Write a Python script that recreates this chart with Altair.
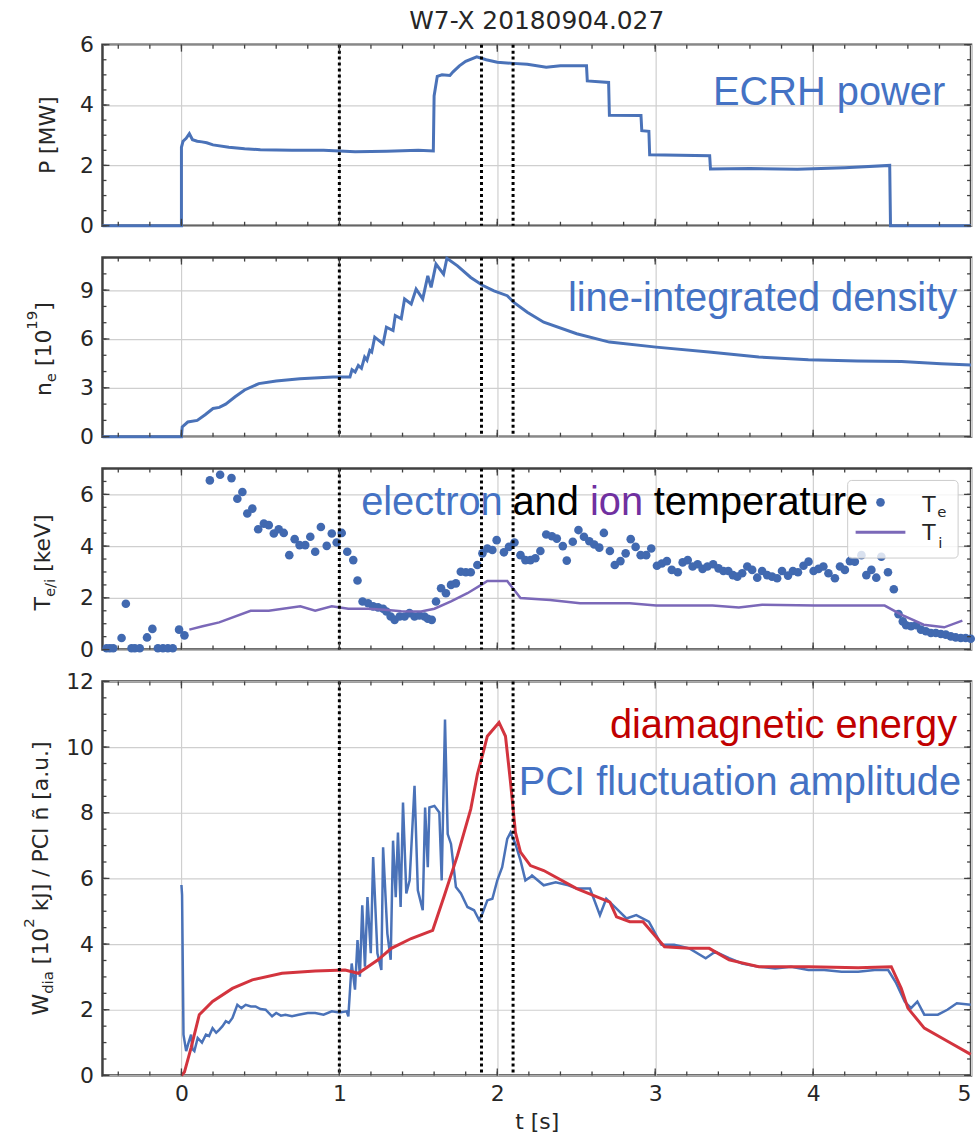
import altair as alt
import numpy as np
import pandas as pd

# ---------------- data ----------------
SHOT = "W7-X 20180904.027"

# ECRH power [MW]
P_t = [-0.5, 0.0, 0.0, 0.01, 0.03, 0.05, 0.07, 0.10, 0.13, 0.16, 0.20, 0.30, 0.40, 0.50, 0.70, 0.90,
       1.10, 1.30, 1.50, 1.595, 1.60, 1.62, 1.65, 1.70, 1.72, 1.76, 1.80, 1.87, 1.93, 2.00, 2.10, 2.19,
       2.31, 2.40, 2.50, 2.565, 2.57, 2.705, 2.71, 2.91, 2.915, 2.96, 2.965, 3.345, 3.35, 3.60, 3.90,
       4.20, 4.485, 4.49, 5.0]
P_v = [0, 0, 2.6, 2.8, 2.9, 3.05, 2.85, 2.8, 2.78, 2.75, 2.68, 2.6, 2.55, 2.52, 2.5, 2.5,
       2.45, 2.47, 2.5, 2.48, 4.3, 4.95, 5.0, 4.98, 5.1, 5.3, 5.45, 5.6, 5.5, 5.42, 5.38, 5.35,
       5.25, 5.3, 5.3, 5.3, 4.8, 4.75, 3.66, 3.65, 3.15, 3.13, 2.35, 2.32, 1.88, 1.9, 1.87,
       1.92, 2.0, 0, 0]

# line-integrated density [1e19]
NE = [(-0.5, 0), (0.0, 0), (0.005, 0.6), (0.04, 0.9), (0.1, 1.0), (0.15, 1.35), (0.2, 1.73), (0.24, 1.8),
      (0.28, 2.0), (0.34, 2.45), (0.4, 2.87), (0.49, 3.26), (0.6, 3.42), (0.75, 3.56), (0.96, 3.66),
      (1.067, 3.67), (1.08, 4.11), (1.10, 3.97), (1.12, 4.38), (1.14, 4.2), (1.16, 4.89), (1.175, 4.7),
      (1.193, 5.3), (1.205, 5.2), (1.224, 6.11), (1.277, 5.70), (1.298, 6.72), (1.340, 6.52),
      (1.354, 7.44), (1.392, 7.24), (1.413, 8.46), (1.455, 8.15), (1.486, 9.07), (1.528, 8.46),
      (1.560, 9.88), (1.581, 9.17), (1.612, 10.6), (1.660, 9.98), (1.681, 10.96), (1.748, 10.49),
      (1.832, 9.78), (1.906, 9.3), (1.979, 8.96), (2.063, 8.66), (2.105, 8.25), (2.19, 7.64),
      (2.294, 7.03), (2.503, 6.32), (2.71, 5.81), (3.006, 5.5), (3.34, 5.2), (3.656, 4.89),
      (3.97, 4.73), (4.28, 4.65), (4.56, 4.62), (4.81, 4.48), (5.0, 4.4)]

# electron temperature [keV] (points)
TE = [(-0.474, 0.05), (-0.453, 0.05), (-0.432, 0.05), (-0.379, 0.45), (-0.352, 1.77), (-0.316, 0.05),
      (-0.295, 0.05), (-0.264, 0.05), (-0.218, 0.47), (-0.184, 0.8), (-0.149, 0.05), (-0.117, 0.05),
      (-0.086, 0.05), (-0.055, 0.05), (-0.015, 0.77), (0.019, 0.55),
      (0.180, 6.54), (0.245, 6.76), (0.317, 6.63), (0.354, 5.83), (0.386, 6.09), (0.417, 5.26),
      (0.449, 5.45), (0.486, 4.65), (0.522, 4.87), (0.553, 4.81), (0.585, 4.49), (0.616, 4.65),
      (0.648, 4.51), (0.683, 3.65), (0.717, 4.27), (0.748, 4.04), (0.784, 4.04), (0.816, 4.36),
      (0.847, 3.78), (0.883, 4.74), (0.920, 4.01), (0.952, 4.49), (0.983, 4.14), (1.015, 4.51),
      (1.050, 3.78), (1.088, 3.46), (1.115, 2.67), (1.147, 1.86), (1.182, 1.79), (1.214, 1.67),
      (1.245, 1.63), (1.277, 1.58), (1.298, 1.47), (1.325, 1.28), (1.350, 1.15), (1.382, 1.28),
      (1.413, 1.28), (1.444, 1.41), (1.476, 1.28), (1.507, 1.32), (1.539, 1.28), (1.560, 1.19),
      (1.585, 1.15), (1.612, 1.86), (1.644, 2.37), (1.675, 2.18), (1.707, 2.5), (1.738, 2.56),
      (1.769, 3.01), (1.801, 2.99), (1.832, 2.99), (1.874, 3.27), (1.906, 3.72), (1.937, 3.91),
      (1.969, 3.85), (1.996, 4.23), (2.042, 3.76), (2.074, 3.97), (2.109, 4.14), (2.147, 3.65),
      (2.178, 3.46), (2.210, 3.46), (2.241, 3.53), (2.273, 3.81), (2.310, 4.45), (2.346, 4.38),
      (2.377, 4.29), (2.415, 4.0), (2.44, 3.44), (2.478, 4.17), (2.514, 4.62), (2.549, 4.36),
      (2.583, 4.19), (2.614, 4.06), (2.646, 3.94), (2.675, 4.51), (2.713, 3.81), (2.744, 3.27),
      (2.780, 3.42), (2.813, 3.72), (2.845, 4.27), (2.876, 3.97), (2.908, 3.65), (2.943, 3.65),
      (2.975, 3.91), (3.011, 3.24), (3.042, 3.33), (3.074, 3.42), (3.105, 3.08), (3.143, 2.99),
      (3.174, 3.37), (3.206, 3.46), (3.237, 3.21), (3.269, 3.30), (3.300, 3.12), (3.331, 3.21),
      (3.367, 3.30), (3.401, 3.14), (3.432, 3.04), (3.463, 3.04), (3.492, 2.88), (3.520, 2.82),
      (3.551, 2.95), (3.583, 3.21), (3.614, 3.08), (3.646, 2.78), (3.677, 3.04), (3.709, 2.88),
      (3.740, 2.82), (3.772, 2.76), (3.803, 3.04), (3.841, 2.86), (3.872, 3.04), (3.904, 2.99),
      (3.939, 3.24), (3.971, 3.40), (4.003, 3.04), (4.034, 3.12), (4.065, 3.21), (4.097, 2.95),
      (4.138, 2.76), (4.170, 3.21), (4.201, 3.08), (4.233, 3.42), (4.264, 3.40), (4.306, 3.65),
      (4.337, 2.88), (4.369, 3.08), (4.400, 2.78), (4.432, 3.59), (4.474, 2.99), (4.511, 2.33),
      (4.541, 1.37), (4.568, 1.09), (4.589, 0.94), (4.620, 0.90), (4.652, 0.94), (4.683, 0.77),
      (4.714, 0.71), (4.746, 0.64), (4.777, 0.64), (4.809, 0.60), (4.840, 0.58), (4.872, 0.51),
      (4.903, 0.47), (4.935, 0.45), (4.966, 0.45), (4.998, 0.42)]

# ion temperature [keV] (line)
TI = [(0.05, 0.77), (0.134, 0.90), (0.239, 1.05), (0.438, 1.50), (0.553, 1.50), (0.753, 1.67),
      (0.847, 1.50), (0.952, 1.67), (1.057, 1.58), (1.182, 1.58), (1.287, 1.54), (1.392, 1.48),
      (1.518, 1.47), (1.602, 1.58), (1.707, 1.86), (1.811, 2.18), (1.906, 2.53), (1.937, 2.65),
      (2.063, 2.65), (2.147, 1.99), (2.335, 1.92), (2.524, 1.79), (2.839, 1.79), (3.006, 1.70),
      (3.363, 1.70), (3.530, 1.63), (3.677, 1.73), (4.01, 1.70), (4.453, 1.70), (4.558, 1.35),
      (4.70, 0.96), (4.83, 0.86), (4.945, 1.12)]

# diamagnetic energy [1e2 kJ]
WDIA = [(0.0, 0.0), (0.019, 0.1), (0.061, 0.84), (0.113, 1.85), (0.197, 2.25), (0.323, 2.65),
        (0.449, 2.91), (0.637, 3.11), (0.847, 3.18), (1.036, 3.21), (1.12, 3.11), (1.245, 3.52),
        (1.329, 3.87), (1.455, 4.17), (1.591, 4.42), (1.665, 5.48), (1.748, 6.70), (1.832, 8.11),
        (1.874, 9.17), (1.916, 9.93), (1.937, 10.33), (2.011, 10.75), (2.052, 10.33), (2.084, 8.92),
        (2.115, 7.40), (2.147, 6.80), (2.210, 6.39), (2.294, 6.24), (2.503, 5.69), (2.713, 5.28),
        (2.755, 4.83), (2.839, 4.68), (2.923, 4.68), (3.059, 3.92), (3.216, 3.87), (3.342, 3.87),
        (3.468, 3.52), (3.656, 3.31), (3.971, 3.31), (4.285, 3.28), (4.495, 3.31), (4.558, 2.65),
        (4.600, 2.05), (4.704, 1.44), (4.851, 1.04), (4.998, 0.64)]

# PCI fluctuation amplitude [a.u.]
PCI = [(0.0, 5.8), (0.004, 5.5), (0.013, 1.24), (0.03, 0.74), (0.045, 1.0), (0.061, 1.24), (0.07, 0.8),
       (0.082, 0.74), (0.103, 1.14), (0.13, 1.0), (0.155, 1.24), (0.175, 1.2), (0.197, 1.44),
       (0.22, 1.3), (0.239, 1.39), (0.26, 1.5), (0.281, 1.65), (0.3, 1.6), (0.323, 1.75),
       (0.354, 2.15), (0.38, 2.05), (0.407, 2.15), (0.44, 2.1), (0.469, 2.1), (0.5, 2.02),
       (0.533, 2.0), (0.574, 1.80), (0.6, 1.9), (0.63, 1.82), (0.658, 1.85), (0.7, 1.8),
       (0.742, 1.85), (0.8, 1.9), (0.847, 1.90), (0.9, 1.85), (0.952, 1.95), (1.0, 1.92),
       (1.046, 1.95), (1.057, 1.80), (1.078, 3.41), (1.099, 2.61), (1.115, 4.12), (1.130, 3.01),
       (1.145, 5.18), (1.162, 3.31), (1.178, 5.43), (1.199, 3.72), (1.214, 6.65), (1.241, 3.72),
       (1.266, 3.21), (1.277, 6.95), (1.304, 4.32), (1.325, 3.52), (1.340, 7.15), (1.357, 5.43),
       (1.371, 7.40), (1.388, 5.13), (1.403, 8.31), (1.424, 5.54), (1.445, 5.94), (1.476, 8.82),
       (1.497, 5.64), (1.528, 5.03), (1.543, 8.16), (1.560, 6.34), (1.570, 8.16), (1.602, 8.21),
       (1.633, 8.01), (1.648, 5.94), (1.669, 10.84), (1.686, 7.35), (1.707, 7.05), (1.738, 5.74),
       (1.770, 5.54), (1.811, 5.13), (1.853, 5.03), (1.885, 4.73), (1.906, 4.93), (1.937, 5.33),
       (1.969, 5.38), (2.0, 5.94), (2.031, 6.34), (2.063, 7.20), (2.084, 7.40), (2.115, 7.05),
       (2.147, 6.55), (2.178, 5.94), (2.210, 6.04), (2.22, 6.09), (2.294, 5.79), (2.37, 5.88),
       (2.45, 5.79), (2.503, 5.69), (2.587, 5.69), (2.65, 4.88), (2.69, 5.38), (2.755, 5.08),
       (2.818, 4.78), (2.88, 4.88), (2.96, 4.68), (3.04, 3.98), (3.12, 3.98), (3.216, 3.87),
       (3.32, 3.57), (3.38, 3.77), (3.468, 3.57), (3.55, 3.41), (3.656, 3.31), (3.76, 3.26),
       (3.86, 3.31), (3.97, 3.21), (4.07, 3.21), (4.18, 3.16), (4.285, 3.16), (4.39, 3.21),
       (4.475, 3.21), (4.526, 2.81), (4.58, 2.25), (4.62, 2.05), (4.66, 2.25), (4.704, 1.85),
       (4.79, 1.85), (4.85, 2.0), (4.91, 2.2), (4.998, 2.15)]

MARK_TIMES = [1.0, 1.9, 2.1]
X_MAJ = [0, 1, 2, 3, 4, 5]
X_DOM = [-0.5, 5]

assert len(P_t) == len(P_v)

# ---------------- style ----------------
W = 873
FONT = "DejaVu Sans"
ANN = "Liberation Sans"
ANN_FS = 40
TXT = "#262626"
FRAME = "#404040"
GRID = "#cfcfcf"
BLUE_LINE = "#4a72b8"
TE_BLUE = "#4169b0"
TI_PURPLE = "#7b68b8"
RED_LINE = "#d3343e"
BLUE_TXT = "#4472c4"
RED_TXT = "#c00000"
PURPLE_TXT = "#7030a0"
ONE = pd.DataFrame({"o": [0]})

DV = {' ': 651, '[': 799, ']': 799, '/': 690, '.': 651, '0': 1303, '1': 1303, '2': 1303, '9': 1303,
      'P': 1235, 'M': 1767, 'W': 2025, 'T': 1251, 'V': 1401, 'C': 1430, 'I': 604, 'J': 604,
      'a': 1255, 'd': 1300, 'e': 1260, 'i': 569, 'k': 1188, 'n': 1298, 'u': 1298, 'ñ': 1298}


def tw(s, fs):
    return sum(DV[c] for c in s) / 2048.0 * fs


def txt(s, x, y, fs, color=TXT, font=FONT, align="left", angle=0):
    return alt.Chart(ONE).mark_text(text=s, font=font, fontSize=fs, color=color, align=align,
                                    baseline="alphabetic", angle=angle).encode(
        x=alt.value(x), y=alt.value(y))


def ylabel(pieces, xb, yc):
    """Rotated (bottom-to-top) axis title built from pieces (text, size, baseline shift)."""
    total = sum(tw(s, fs) for s, fs, dx in pieces)
    y = yc + total / 2.0
    out = []
    for s, fs, dx in pieces:
        body = s.lstrip(" ")
        lead = tw(s[:len(s) - len(body)], fs)
        out.append(txt(body, xb + dx, y - lead, fs, angle=270))
        y -= tw(s, fs)
    return out


def series_df(pairs):
    df = pd.DataFrame(pairs, columns=["t", "v"])
    df["i"] = range(len(df))
    return df


def panel(h, ydom, ymaj, ystep, data_fn, extra, show_x):
    xaxis = alt.Axis(values=X_MAJ, grid=True, gridColor=GRID, gridWidth=1.2, ticks=False, domain=False,
                     labels=show_x, labelFont=FONT, labelFontSize=22, labelColor=TXT, labelPadding=8,
                     labelFlush=True, title=("t [s]" if show_x else None), titleFont=FONT,
                     titleFontSize=22, titleFontWeight="normal", titleColor=TXT, titlePadding=7)
    yaxis = alt.Axis(values=ymaj, grid=True, gridColor=GRID, gridWidth=1.2, ticks=False, domain=False,
                     labelFont=FONT, labelFontSize=22, labelColor=TXT, labelPadding=9, title=None)
    x_enc = alt.X("t:Q", scale=alt.Scale(domain=X_DOM, nice=False, zero=False), axis=xaxis)
    y_enc = alt.Y("v:Q", scale=alt.Scale(domain=ydom, nice=False, zero=False), axis=yaxis)

    layers = data_fn(x_enc, y_enc)

    vdf = pd.DataFrame({"t": MARK_TIMES})
    layers.append(alt.Chart(vdf).mark_rule(color="black", strokeWidth=3, strokeDash=[3, 3]).encode(x=x_enc))

    x_min = pd.DataFrame({"t": [round(v, 2) for v in np.arange(-0.4, 5.0, 0.2)]})
    x_maj = pd.DataFrame({"t": X_MAJ[:-1]})
    y_min = pd.DataFrame({"v": [round(v, 2) for v in np.arange(ydom[0], ydom[1] + 1e-9, ystep)]})
    y_maj = pd.DataFrame({"v": ymaj})
    for df, L in ((x_min, 4), (x_maj, 7)):
        layers.append(alt.Chart(df).mark_rule(color=FRAME, strokeWidth=1.3).encode(
            x=x_enc, y=alt.value(h), y2=alt.value(h - L)))
        layers.append(alt.Chart(df).mark_rule(color=FRAME, strokeWidth=1.3).encode(
            x=x_enc, y=alt.value(0), y2=alt.value(L)))
    for df, L in ((y_min, 4), (y_maj, 7)):
        layers.append(alt.Chart(df).mark_rule(color=FRAME, strokeWidth=1.3).encode(
            y=y_enc, x=alt.value(0), x2=alt.value(L)))
        layers.append(alt.Chart(df).mark_rule(color=FRAME, strokeWidth=1.3).encode(
            y=y_enc, x=alt.value(W), x2=alt.value(W - L)))
    layers += extra
    return alt.layer(*layers).properties(width=W, height=h)


H1, H2, H3, H4 = 182, 180, 182, 396


# ---------------- panel 1 ----------------
def d1(x_enc, y_enc):
    df = pd.DataFrame({"t": P_t, "v": P_v, "i": range(len(P_t))})
    return [alt.Chart(df).mark_line(color=BLUE_LINE, strokeWidth=3).encode(x=x_enc, y=y_enc, order="i:Q")]


p1 = panel(H1, [0, 6], [0, 2, 4, 6], 0.5, d1,
           [txt("ECRH power", 847, 61, ANN_FS, BLUE_TXT, ANN, "right")]
           + ylabel([("P [MW]", 22, 0)], -48, H1 / 2), False)
p1 = p1.properties(title=alt.TitleParams(SHOT, font=FONT, fontSize=25, fontWeight="normal", color=TXT,
                                         anchor="middle", frame="group", offset=0))


# ---------------- panel 2 ----------------
def d2(x_enc, y_enc):
    return [alt.Chart(series_df(NE)).mark_line(color=BLUE_LINE, strokeWidth=3).encode(
        x=x_enc, y=y_enc, order="i:Q")]


p2 = panel(H2, [0, 11], [0, 3, 6, 9], 1, d2,
           [txt("line-integrated density", 859, 54, ANN_FS, BLUE_TXT, ANN, "right")]
           + ylabel([("n", 22, 0), ("e", 15, 5), (" [10", 22, 0), ("19", 15, -14), ("]", 22, 0)], -52, 92),
           False)


# ---------------- panel 3 ----------------
def d3(x_enc, y_enc):
    return [
        alt.Chart(series_df(TE)).mark_circle(color=TE_BLUE, size=75, opacity=1).encode(x=x_enc, y=y_enc),
        alt.Chart(series_df(TI)).mark_line(color=TI_PURPLE, strokeWidth=2.5).encode(
            x=x_enc, y=y_enc, order="i:Q"),
    ]


legend3 = [
    alt.Chart(ONE).mark_rect(fill="white", fillOpacity=0.8, stroke="#cccccc", strokeWidth=1,
                             cornerRadius=4).encode(
        x=alt.value(749), x2=alt.value(860), y=alt.value(12), y2=alt.value(90)),
    alt.Chart(ONE).mark_circle(color=TE_BLUE, size=75, opacity=1).encode(x=alt.value(782), y=alt.value(34)),
    alt.Chart(ONE).mark_rule(color=TI_PURPLE, strokeWidth=3).encode(
        x=alt.value(757), x2=alt.value(807), y=alt.value(64)),
    txt("T", 824, 44, 22), txt("e", 839, 49, 15),
    txt("T", 824, 72, 22), txt("i", 840, 80, 15),
]
words3 = [
    txt("electron", 260, 47, ANN_FS, BLUE_TXT, ANN),
    txt("and", 412, 47, ANN_FS, "black", ANN),
    txt("ion", 490, 47, ANN_FS, PURPLE_TXT, ANN),
    txt("temperature", 554, 47, ANN_FS, "black", ANN),
]
p3 = panel(H3, [0, 7], [0, 2, 4, 6], 0.5, d3,
           legend3 + words3
           + ylabel([("T", 22, 0), ("e/i", 15, 5), (" [keV]", 22, 0)], -53, 94),
           False)


# ---------------- panel 4 ----------------
def d4(x_enc, y_enc):
    return [
        alt.Chart(series_df(PCI)).mark_line(color=BLUE_LINE, strokeWidth=2.5).encode(
            x=x_enc, y=y_enc, order="i:Q"),
        alt.Chart(series_df(WDIA)).mark_line(color=RED_LINE, strokeWidth=3).encode(
            x=x_enc, y=y_enc, order="i:Q"),
    ]


p4 = panel(H4, [0, 12], [0, 2, 4, 6, 8, 10, 12], 0.5, d4,
           [txt("diamagnetic energy", 859, 57, ANN_FS, RED_TXT, ANN, "right"),
            txt("PCI fluctuation amplitude", 863, 114, ANN_FS, BLUE_TXT, ANN, "right")]
           + ylabel([("W", 22, 0), ("dia", 15, 5), (" [10", 22, 0), ("2", 15, -14),
                     (" kJ] / PCI ñ [a.u.]", 22, 0)], -55, H4 / 2),
           True)

chart = alt.vconcat(p1, p2, p3, p4, spacing=32, bounds="flush").configure(
    padding={"left": 20, "top": 4, "right": 0, "bottom": 0}, background="white"
).configure_view(stroke=FRAME, strokeWidth=2.5)

chart.save("out.html", embed_options={"renderer": "svg", "actions": False})
